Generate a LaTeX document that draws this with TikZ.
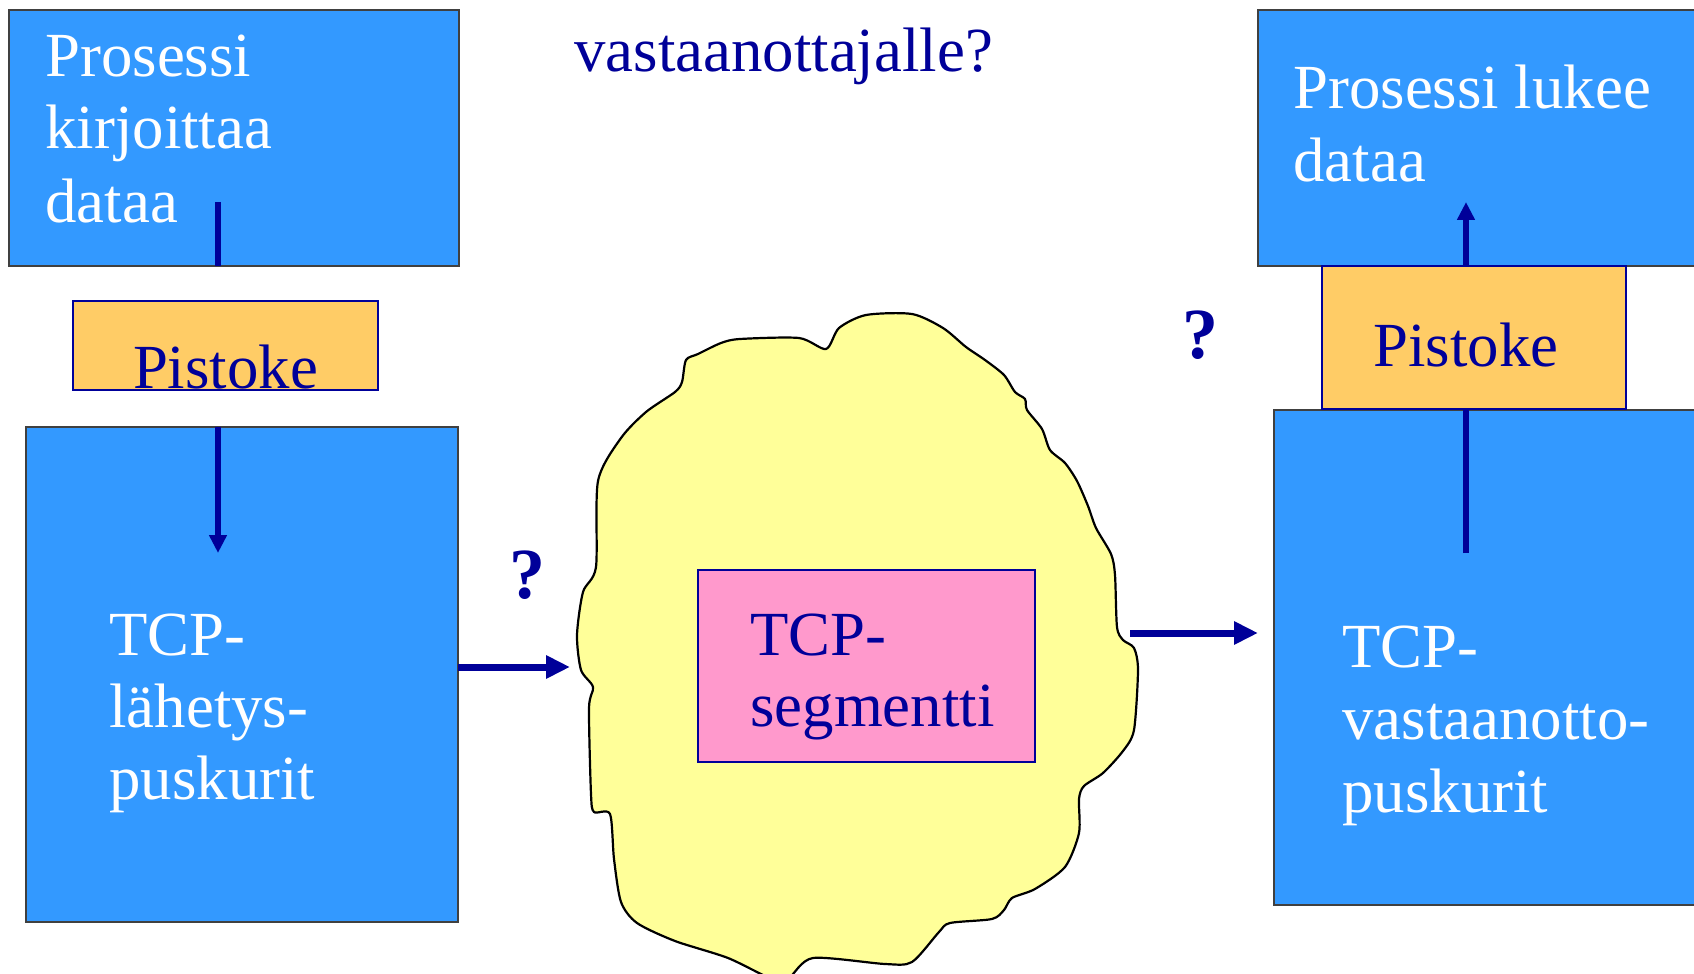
\documentclass[tikz,border=0pt]{standalone}
\usepackage{fontspec}
\setmainfont{Liberation Serif}
\usetikzlibrary{arrows.meta}
\definecolor{boxblue}{HTML}{3399FF}
\definecolor{navy}{HTML}{000099}
\definecolor{sockfill}{HTML}{FFCC66}
\definecolor{cloudfill}{HTML}{FFFF99}
\definecolor{segfill}{HTML}{FF99CC}
\definecolor{edgegray}{HTML}{404040}
\tikzset{
  bluebox/.style={draw=edgegray, line width=1pt, fill=boxblue},
  sockbox/.style={draw=navy, line width=1pt, fill=sockfill},
  segbox/.style={draw=navy, line width=1pt, fill=segfill},
  big/.style={font=\fontsize{31.4pt}{36pt}\selectfont, inner sep=0pt, anchor=base west},
  wtxt/.style={big, text=white},
  ntxt/.style={big, text=navy},
  qmark/.style={font=\fontsize{36pt}{40pt}\selectfont\bfseries, text=navy, inner sep=0pt, anchor=base},
  vline/.style={draw=navy, line width=2.6pt},
  varrow/.style={vline, -{Triangle[length=9pt,width=8.5pt]}},
  harrow/.style={draw=navy, line width=3.5pt, -{Triangle[length=12pt,width=11pt]}},
}
\begin{document}
\begin{tikzpicture}[x=0.5pt, y=-0.5pt]
\useasboundingbox (0,0) rectangle (1694,974);
% boxes
\path[bluebox] (9,10) rectangle (459,266);
\node[inner sep=0, minimum width=450*0.5pt, minimum height=256*0.5pt] (tl) at (234,138) {};
\path[bluebox] (26,427) rectangle (458,922);
\node[inner sep=0, minimum width=432*0.5pt, minimum height=495*0.5pt] (bl) at (242,674.5) {};
\path[bluebox] (1258,10) rectangle (1710,266);
\node[inner sep=0, minimum width=452*0.5pt, minimum height=256*0.5pt] (tr) at (1484,138) {};
\path[bluebox] (1274,410) rectangle (1710,905);
\node[inner sep=0, minimum width=436*0.5pt, minimum height=495*0.5pt] (br) at (1492,657.5) {};
% sockets
\node[sockbox, inner sep=0, minimum width=305*0.5pt, minimum height=89*0.5pt] (sl) at (225.5,345.5) {};
\node[sockbox, inner sep=0, minimum width=304*0.5pt, minimum height=143*0.5pt] (sr) at (1474,337.5) {};
% cloud
\draw[line width=1.1pt, fill=cloudfill, line join=round]
  plot[smooth cycle, tension=0.45] coordinates {
  (826,349) (839,328) (866,315) (912,314) (943,328) (966,347) (985,360) (1004,375)
  (1015,392) (1025,399) (1027,410) (1042,429) (1050,450) (1065,463) (1077,481)
  (1088,506) (1096,528) (1111,554) (1115,575) (1117,627) (1123,640) (1134,648)
  (1138,670) (1134,730) (1123,751) (1103,773) (1084,786) (1079,799) (1079,833)
  (1065,867) (1035,889) (1012,898) (1004,910) (992,919) (950,923) (939,932)
  (912,962) (885,964) (813,958) (789,978) (774,980) (728,958) (675,941) (637,923)
  (621,902) (614,859) (610,814) (594,812) (591,794) (589,708) (593,687) (581,670)
  (577,635) (583,592) (596,567) (598,481) (621,438) (646,412) (675,392) (682,382)
  (686,360) (698,354) (721,343) (740,339) (799,338)};
\node[segbox, inner sep=0, minimum width=337*0.5pt, minimum height=192*0.5pt] (seg) at (866,666) {};
% texts
\node[wtxt] (t1a) at (45,77) {Prosessi};
\node[wtxt] (t1b) at (45,149) {kirjoittaa};
\node[wtxt] (t1c) at (45,222) {dataa};
\node[wtxt] (t2a) at (1293,109) {Prosessi lukee};
\node[wtxt] (t2b) at (1293,182) {dataa};
\node[wtxt] (t3a) at (109,655) {TCP-};
\node[wtxt] (t3b) at (109,727) {lähetys-};
\node[wtxt] (t3c) at (109,799) {puskurit};
\node[wtxt] (t4a) at (1342,667) {TCP-};
\node[wtxt] (t4b) at (1342,739) {vastaanotto-};
\node[wtxt] (t4c) at (1342,812) {puskurit};
\node[ntxt] (t5a) at (750,655) {TCP-};
\node[ntxt] (t5b) at (750,726) {segmentti};
\node[ntxt] (title) at (574,72) {vastaanottajalle?};
\node[ntxt, anchor=base] (pl) at (225.5,388) {Pistoke};
\node[ntxt, anchor=base] (pr) at (1466,366) {Pistoke};
\node[qmark] (q1) at (527,598) {?};
\node[qmark] (q2) at (1200,358) {?};
% connectors
\coordinate (wstart) at (218,202);
\coordinate (sendin) at (218,553);
\coordinate (readtip) at (1466,202);
\coordinate (recvin) at (1466,553);
\coordinate (cloudin) at (570,667);
\coordinate (cloudout) at (1130,633);
\coordinate (recvtip) at (1258,633);
\draw[vline] (wstart) -- (wstart |- tl.south);
\draw[varrow] (sendin |- bl.north) -- (sendin);
\draw[vline] (recvin) -- (recvin |- sr.south);
\draw[varrow] (readtip |- sr.north) -- (readtip);
\draw[harrow] (cloudin -| bl.east) -- (cloudin);
\draw[harrow] (cloudout) -- (recvtip);
\end{tikzpicture}
\end{document}
